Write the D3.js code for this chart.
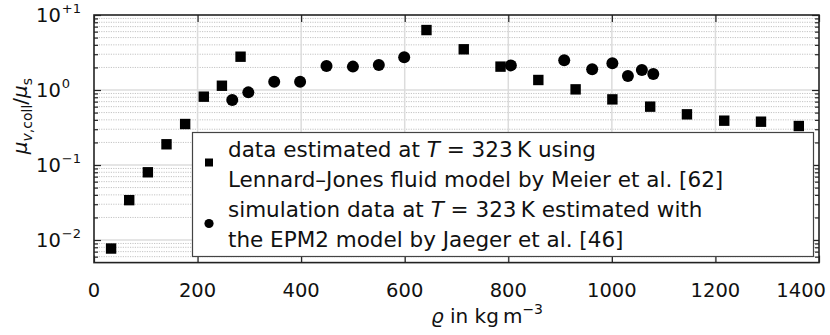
<!DOCTYPE html>
<html>
<head>
<meta charset="utf-8">
<script src="https://cdn.jsdelivr.net/npm/d3@7/dist/d3.min.js"></script>
<style>
  html, body { margin: 0; padding: 0; background: #fff; }
</style>
</head>
<body>
<svg id="chart" width="830" height="335" font-family="'DejaVu Sans', sans-serif"></svg>
<script>
// Lennard–Jones fluid estimate (Meier et al.), T = 323 K
const ljDensity = [33, 68, 104, 140, 176, 212, 247, 283, 642, 714, 785, 858, 930, 1001, 1074, 1145, 1217, 1288, 1361];
const ljRatio   = [0.0077, 0.034, 0.080, 0.189, 0.352, 0.815, 1.14, 2.78, 6.3, 3.49, 2.05, 1.36, 1.02, 0.75, 0.60, 0.474, 0.39, 0.378, 0.331];

// EPM2 simulation data (Jaeger et al.), T = 323 K
const epmDensity = [267, 298, 348, 398, 449, 500, 550, 599, 805, 908, 962, 1001, 1031, 1058, 1080];
const epmRatio   = [0.736, 0.93, 1.29, 1.29, 2.09, 2.05, 2.15, 2.73, 2.13, 2.49, 1.89, 2.27, 1.54, 1.85, 1.63];

const xTicks = [0, 200, 400, 600, 800, 1000, 1200, 1400];
const yTicks = [0.01, 0.1, 1, 10];
const yTickExp = ["\u22122", "\u22121", "0", "+1"];

const legendLines = [
  ["data estimated at ", "T", " = 323\u2009K using"],
  ["Lennard\u2013Jones fluid model by Meier et al. [62]"],
  ["simulation data at ", "T", " = 323\u2009K estimated with"],
  ["the EPM2 model by Jaeger et al. [46]"]
];

const svg = d3.select("#chart");
const plotL = 94, plotR = 819, plotT = 15, plotB = 262.6;
const ink = "#111";

const x = d3.scaleLinear().domain([0, 1400]).range([plotL, plotR]);
const y = d3.scaleLog().domain([0.005, 10]).range([plotB, plotT]);

// minor log ticks
const minor = [];
for (let e = -3; e <= 0; e++) {
  for (let m = 2; m <= 9; m++) {
    const v = m * Math.pow(10, e);
    if (v > 0.005 && v < 10) minor.push(v);
  }
}

const grid = svg.append("g");
grid.append("g").selectAll("line").data(minor).join("line")
  .attr("x1", plotL).attr("x2", plotR)
  .attr("y1", d => y(d)).attr("y2", d => y(d))
  .attr("stroke", "#c4c4c4").attr("stroke-width", 1)
  .attr("stroke-dasharray", "1.2,1.2");
grid.append("g").selectAll("line").data(yTicks.filter(d => d < 10)).join("line")
  .attr("x1", plotL).attr("x2", plotR)
  .attr("y1", d => y(d)).attr("y2", d => y(d))
  .attr("stroke", "#dcdcdc").attr("stroke-width", 1.5);
grid.append("g").selectAll("line").data(xTicks.filter(d => d > 0 && d < 1400)).join("line")
  .attr("x1", d => x(d)).attr("x2", d => x(d))
  .attr("y1", plotT).attr("y2", plotB)
  .attr("stroke", "#dcdcdc").attr("stroke-width", 1.5);

// axes with inward ticks
const axB = d3.axisBottom(x).tickValues(xTicks).tickSizeInner(-7).tickSizeOuter(0).tickFormat("");
const axT = d3.axisTop(x).tickValues(xTicks).tickSizeInner(-7).tickSizeOuter(0).tickFormat("");
const axL = d3.axisLeft(y).tickValues(yTicks).tickSizeInner(-7).tickSizeOuter(0).tickFormat("");
const axR = d3.axisRight(y).tickValues(yTicks).tickSizeInner(-7).tickSizeOuter(0).tickFormat("");
const axLm = d3.axisLeft(y).tickValues(minor).tickSizeInner(-4).tickSizeOuter(0).tickFormat("");
const axRm = d3.axisRight(y).tickValues(minor).tickSizeInner(-4).tickSizeOuter(0).tickFormat("");

const axes = svg.append("g");
[[axB, `translate(0,${plotB})`], [axT, `translate(0,${plotT})`],
 [axL, `translate(${plotL},0)`], [axR, `translate(${plotR},0)`],
 [axLm, `translate(${plotL},0)`], [axRm, `translate(${plotR},0)`]].forEach(([a, t]) => {
  const g = axes.append("g").attr("transform", t).call(a);
  g.select(".domain").remove();
  g.selectAll("line").attr("stroke", "#222").attr("stroke-width", 1.2);
});
axes.append("rect")
  .attr("x", plotL).attr("y", plotT).attr("width", plotR - plotL).attr("height", plotB - plotT)
  .attr("fill", "none").attr("stroke", "#222").attr("stroke-width", 1.6);

// tick labels
const fs = 19.5;
svg.append("g").selectAll("text").data(xTicks).join("text")
  .attr("x", d => d === 1400 ? 826 : x(d)).attr("y", 297)
  .attr("text-anchor", d => d === 1400 ? "end" : "middle")
  .attr("font-size", fs).attr("fill", ink)
  .text(d => d);

const yl = svg.append("g").selectAll("text").data(yTicks).join("text")
  .attr("x", 36).attr("y", d => y(d) + 7)
  .attr("text-anchor", "start").attr("font-size", fs).attr("fill", ink);
yl.append("tspan").text("10");
yl.append("tspan").attr("font-size", 13).attr("dx", 1).attr("dy", -9).text((d, i) => yTickExp[i]);

// axis titles
const xt = svg.append("text").attr("x", 487).attr("y", 323)
  .attr("text-anchor", "middle").attr("font-size", 20).attr("fill", ink);
xt.append("tspan").attr("font-style", "italic").text("\u03f1");
xt.append("tspan").text(" in kg\u2009m");
xt.append("tspan").attr("font-size", 14).attr("dy", -9).text("\u22123");

const ytG = svg.append("text").attr("transform", "translate(27,116) rotate(-90)")
  .attr("text-anchor", "middle").attr("font-size", 20).attr("fill", ink);
ytG.append("tspan").attr("font-style", "italic").text("\u03bc");
ytG.append("tspan").attr("font-size", 14).attr("dy", 5).attr("font-style", "italic").text("v");
ytG.append("tspan").attr("font-size", 14).text(",coll");
ytG.append("tspan").attr("dy", -5).text("/");
ytG.append("tspan").attr("font-style", "italic").text("\u03bc");
ytG.append("tspan").attr("font-size", 14).attr("dy", 5).text("s");

// data marks
const sq = 10.4;
svg.append("g").selectAll("rect").data(ljDensity).join("rect")
  .attr("x", (d, i) => x(d) - sq / 2).attr("y", (d, i) => y(ljRatio[i]) - sq / 2)
  .attr("width", sq).attr("height", sq).attr("fill", "#000");
svg.append("g").selectAll("circle").data(epmDensity).join("circle")
  .attr("cx", d => x(d)).attr("cy", (d, i) => y(epmRatio[i]))
  .attr("r", 6).attr("fill", "#000");

// legend
const lg = svg.append("g");
lg.append("rect").attr("x", 192.5).attr("y", 132.5).attr("width", 621).attr("height", 124)
  .attr("fill", "#fff").attr("stroke", "#444").attr("stroke-width", 1.2);
lg.append("rect").attr("x", 205).attr("y", 158.5).attr("width", 8).attr("height", 8).attr("fill", "#000");
lg.append("circle").attr("cx", 209).attr("cy", 223.5).attr("r", 4.6).attr("fill", "#000");
const lt = lg.selectAll("text").data(legendLines).join("text")
  .attr("x", 228).attr("y", (d, i) => 156.5 + i * 30.1)
  .attr("font-size", 21.5).attr("fill", ink);
lt.each(function (parts) {
  const t = d3.select(this);
  parts.forEach(p => {
    const s = t.append("tspan").text(p);
    if (p === "T") s.attr("font-style", "italic");
  });
});
</script>
</body>
</html>
